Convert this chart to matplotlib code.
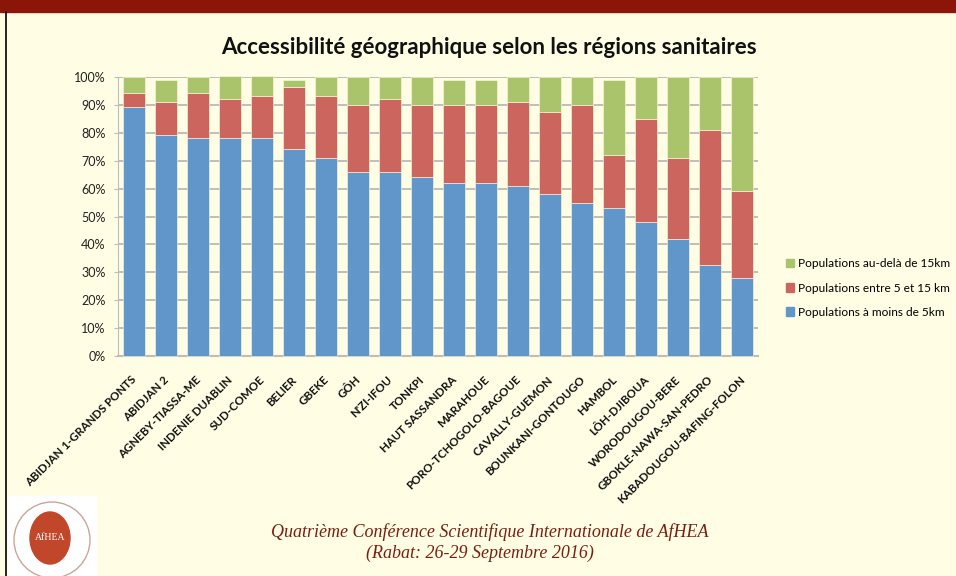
import matplotlib
matplotlib.use('Agg')
import matplotlib.pyplot as plt
import matplotlib.patches as mpatches
import matplotlib.transforms as mtransforms
import numpy as np

plt.rcParams['font.family'] = ['Lato', 'DejaVu Sans']

# %%
regions = ['ABIDJAN 1-GRANDS PONTS', 'ABIDJAN 2', 'AGNEBY-TIASSA-ME', 'INDENIE DUABLIN',
           'SUD-COMOE', 'BELIER', 'GBEKE', 'GÔH', "N'ZI-IFOU", 'TONKPI',
           'HAUT SASSANDRA', 'MARAHOUE', 'PORO-TCHOGOLO-BAGOUE', 'CAVALLY-GUEMON',
           'BOUNKANI-GONTOUGO', 'HAMBOL', 'LÔH-DJIBOUA', 'WORODOUGOU-BERE',
           'GBOKLE-NAWA-SAN-PEDRO', 'KABADOUGOU-BAFING-FOLON']
# % de population par tranche de distance
moins_5km = [89.2, 79.1, 78.1, 78.1, 78.1, 74.2, 70.9, 65.8, 65.8, 64.1,
             62.0, 62.0, 61.0, 58.0, 54.9, 53.1, 48.1, 41.9, 32.7, 27.8]
entre_5_15km = [4.9, 11.8, 16.0, 14.1, 15.0, 22.1, 22.2, 24.3, 26.4, 26.0,
                28.1, 28.1, 29.9, 29.3, 35.2, 19.0, 36.8, 28.9, 48.2, 31.2]
plus_15km = [5.9, 8.1, 5.9, 8.3, 7.4, 2.7, 6.9, 9.9, 7.8, 9.9,
             8.9, 8.9, 9.1, 12.7, 9.9, 26.9, 15.1, 29.2, 19.1, 41.0]
legend_labels = ['Populations au-delà de 15km', 'Populations entre 5 et 15 km',
                 'Populations à moins de 5km']

bg = '#FFFDE4'
c_blue = '#6096C9'
c_red = '#CC655D'
c_green = '#A9C46A'

# %%
W, H = 956, 576
fig = plt.figure(figsize=(W / 100, H / 100), dpi=100, facecolor=bg)

# bandeau du haut + bordure gauche
fig.patches.append(mpatches.Rectangle((0, 1 - 12 / H), 1, 12 / H, transform=fig.transFigure,
                                      color='#8A1508', zorder=0))
fig.lines.append(plt.Line2D([6 / W, 6 / W], [0, 1 - 12 / H], transform=fig.transFigure,
                            color='black', lw=1.2))

ax = fig.add_axes([118 / W, (H - 356) / H, 640 / W, 279 / H])
ax.set_facecolor(bg)
x = np.arange(len(regions))
b1 = np.array(moins_5km)
b2 = np.array(entre_5_15km)
b3 = np.array(plus_15km)
kw = dict(width=0.66, edgecolor=bg, linewidth=0.4, zorder=3, clip_on=False)
ax.bar(x, b1, color=c_blue, **kw)
ax.bar(x, b2, bottom=b1, color=c_red, **kw)
ax.bar(x, b3, bottom=b1 + b2, color=c_green, **kw)

ax.set_xlim(-0.5, len(regions) - 0.5)
ax.set_ylim(0, 100)
ax.set_yticks(np.arange(0, 101, 10))
ax.set_yticklabels([f'{v}%' for v in range(0, 101, 10)], fontsize=9, color='#222222')
ax.yaxis.grid(True, color='#B3B3B3', linewidth=1.2, zorder=0)
ax.set_axisbelow(True)
for s in ['top', 'right']:
    ax.spines[s].set_visible(False)
ax.spines['left'].set_color('#BDBDBD')
ax.spines['bottom'].set_color('#BDBDBD')
ax.spines['bottom'].set_linewidth(1.5)
ax.tick_params(axis='y', length=3, color='#BDBDBD', pad=6)
ax.tick_params(axis='x', length=0, pad=13)
ax.set_xticks(x)
ax.set_xticklabels(regions, rotation=45, ha='right', va='top', rotation_mode='anchor',
                   fontsize=8.3, fontweight='bold', color='#111111')
shift = mtransforms.ScaledTranslation(-3 / 100, 0, fig.dpi_scale_trans)
for lab in ax.get_xticklabels():
    lab.set_transform(lab.get_transform() + shift)

fig.text(489 / W, 1 - 47 / H, 'Accessibilité géographique selon les régions sanitaires',
         ha='center', va='center', fontsize=16, fontweight='bold', color='#111111')

handles = [mpatches.Patch(color=c_green), mpatches.Patch(color=c_red), mpatches.Patch(color=c_blue)]
fig.legend(handles, legend_labels, loc='center left', bbox_to_anchor=(775 / W, 1 - 288 / H),
           frameon=False, fontsize=8.6, handlelength=0.7, handleheight=0.7,
           handletextpad=0.3, labelspacing=1.1)

# pied de page
foot = dict(ha='center', va='center', fontsize=13, style='italic', color='#7A1E12',
            family='Liberation Serif')
fig.text(490 / W, 1 - 532 / H, 'Quatrième Conférence Scientifique Internationale de AfHEA', **foot)
fig.text(480 / W, 1 - 553 / H, '(Rabat: 26-29 Septembre 2016)', **foot)

# logo (approximatif)
fig.patches.append(mpatches.Rectangle((8 / W, 0), 88 / W, 80 / H, transform=fig.transFigure,
                                      color='white', zorder=0))
fig.patches.append(mpatches.Ellipse((52 / W, 36 / H), 76 / W, 76 / H, transform=fig.transFigure,
                                    fill=False, edgecolor='#C9A69A', lw=1))
fig.patches.append(mpatches.Ellipse((50 / W, 38 / H), 40 / W, 52 / H, transform=fig.transFigure,
                                    color='#C1462A'))
fig.text(50 / W, 38 / H, 'AfHEA', ha='center', va='center', fontsize=7, color='white',
         family='Liberation Serif')

fig.savefig('out.png', dpi=100, facecolor=bg)
